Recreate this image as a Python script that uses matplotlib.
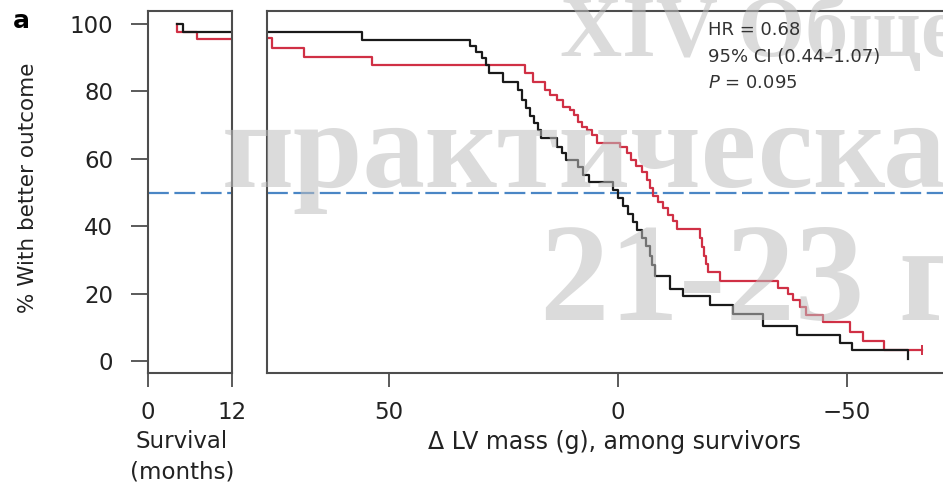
import matplotlib
matplotlib.use('Agg')
import matplotlib.pyplot as plt

# left panel: survival (months)
surv_black_x = [4.1, 5.0, 12]
surv_black_y = [100, 97.6, 97.6]
surv_red_x = [4.1, 4.1, 7.0, 12]
surv_red_y = [100, 97.6, 95.5, 95.5]

# right panel: change in LV mass (g), black group
lv_black_x = [76.6, 55.9, 32.3, 31.0, 29.7, 28.8, 28.2, 25.1, 21.8, 21.0, 20.1, 19.2,
              18.3, 17.5, 16.8, 13.3, 12.2, 11.4, 8.7, 7.6, 6.3, 1.1, 0.0, -1.1, -2.2,
              -3.3, -4.1, -5.2, -6.1, -7.0, -7.4, -8.1, -11.4, -14.2, -20.1, -25.1,
              -31.7, -39.1, -48.5, -51.1, -63.3]
lv_black_y = [97.6, 95.3, 93.5, 91.7, 89.9, 87.8, 85.5, 82.8, 80.4, 77.4, 75.1, 72.7,
              70.6, 68.5, 66.2, 63.5, 61.7, 59.6, 57.6, 55.2, 53.1, 50.7, 48.4, 46.0, 43.6,
              41.2, 38.9, 36.5, 34.1, 31.2, 28.5, 25.2, 21.4, 19.3, 16.6, 13.9,
              10.4, 7.7, 5.3, 3.3, 0.6]

# red group
lv_red_x = [76.6, 75.5, 68.6, 53.7, 20.3, 18.6, 15.9, 14.8, 13.3, 12.0, 10.5, 9.6, 8.7,
            7.9, 6.8, 5.7, 4.6, -0.4, -2.0, -2.8, -3.9, -5.2, -6.3, -7.0, -7.6, -8.7,
            -9.8, -10.9, -12.0, -12.9, -17.9, -18.3, -18.8, -19.2, -19.7, -22.3, -34.9,
            -37.1, -38.2, -39.7, -41.0, -44.8, -50.7, -53.5, -58.1, -66.4]
lv_red_y = [95.8, 92.9, 90.2, 87.8, 85.5, 82.8, 80.4, 78.9, 77.4, 75.4, 74.5, 73.0, 70.9,
            69.4, 68.5, 67.1, 64.7, 63.5, 61.7, 59.6, 57.9, 56.1, 53.7, 51.3, 49.0, 47.2,
            45.4, 43.3, 41.5, 39.2, 36.5, 33.8, 31.2, 28.8, 26.4, 23.7, 21.7,
            19.9, 18.1, 16.0, 13.6, 11.6, 8.6, 5.9, 3.3, 3.3]

yticks = [0, 20, 40, 60, 80, 100]
lv_ticks = [50, 0, -50]
lv_ticklabels = ['50', '0', '\u221250']
stats_lines = ['HR = 0.68', '95% CI (0.44\u20131.07)', '$\\it{P}$ = 0.095']

plt.rcParams['font.family'] = ['DejaVu Sans']
plt.rcParams['lines.scale_dashes'] = False

BLACK = '#1a1a1a'
RED = '#d03045'
BLUE = '#4a86c5'
FRAME = '#4d4d4d'
TXT = '#222222'
W, H = 943, 488

fig = plt.figure(figsize=(W / 100, H / 100), dpi=100)
axL = fig.add_axes([148 / W, 1 - 373 / H, 84 / W, 362 / H])
axR = fig.add_axes([267 / W, 1 - 373 / H, 690 / W, 362 / H])

for ax in (axL, axR):
    ax.set_ylim(-3.6, 103.9)
    ax.axhline(50, color=BLUE, lw=1.6, dashes=(15, 4), zorder=1)
    for s in ax.spines.values():
        s.set_color(FRAME)
        s.set_linewidth(1.5)
    ax.tick_params(axis='x', direction='out', length=10, width=1.3, pad=10,
                   labelsize=16.5, colors=FRAME, labelcolor=TXT)

axL.step(surv_red_x, surv_red_y, where='post', color=RED, lw=1.6)
axL.step(surv_black_x, surv_black_y, where='post', color=BLACK, lw=1.6)
axL.set_xlim(0, 12)
axL.set_xticks([0, 12])
axL.set_yticks(yticks)
axL.tick_params(axis='y', direction='out', length=12, width=1.3, pad=13,
                labelsize=16.5, colors=FRAME, labelcolor=TXT)

axR.step(lv_red_x, lv_red_y, where='post', color=RED, lw=1.6)
axR.plot(lv_red_x[-1], lv_red_y[-1], marker='|', ms=7, color=RED, mew=1.4)
axR.step(lv_black_x, lv_black_y, where='post', color=BLACK, lw=1.6)
axR.set_xlim(76.6, -74.0)
axR.set_xticks(lv_ticks)
axR.set_xticklabels(lv_ticklabels)
axR.set_yticks([])
axR.spines['right'].set_visible(False)

for i, line in enumerate(stats_lines):
    fig.text(708 / W, 1 - (30 + 26.5 * i) / H, line, fontsize=13, color='#333333',
             va='center', ha='left', zorder=30)

fig.text(13 / W, 1 - 21 / H, 'a', fontsize=18, fontweight='bold', va='center')
fig.text(28 / W, 1 - 188 / H, '% With better outcome', rotation=90, fontsize=15.5,
         va='center', ha='center', color=TXT)
fig.text(182 / W, 1 - 442 / H, 'Survival', fontsize=16.5, ha='center', va='center',
         color=TXT)
fig.text(182 / W, 1 - 472 / H, '(months)', fontsize=16.5, ha='center', va='center',
         color=TXT)
fig.text(614 / W, 1 - 442 / H, '\u0394 LV mass (g), among survivors', fontsize=17,
         ha='center', va='center', color=TXT)

# faint watermark laid over the chart
wm = dict(family='Liberation Serif', fontweight='bold', color='#bebebe', alpha=0.55,
          zorder=20, ha='left', va='baseline')
fig.text(560 / W, 1 - 56 / H, 'XIV Общеро', fontsize=62, **wm)
fig.text(222 / W, 1 - 187 / H, 'практическа', fontsize=90, **wm)
fig.text(540 / W, 1 - 320 / H, '21-23 г', fontsize=100, **wm)

fig.savefig('out.png', dpi=100)
